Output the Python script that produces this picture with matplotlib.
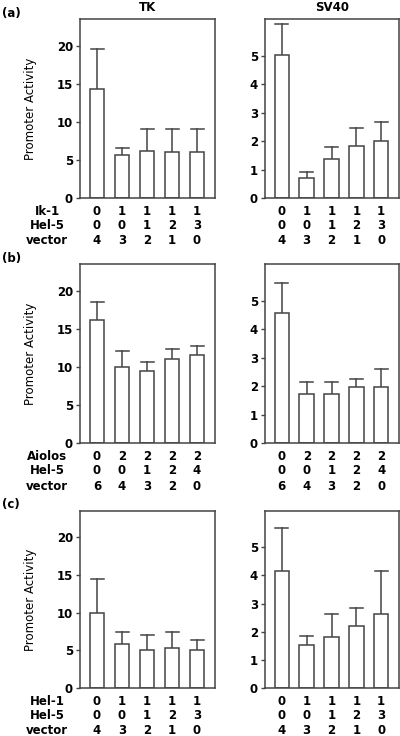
import matplotlib
matplotlib.use("Agg")
import matplotlib.pyplot as plt
import matplotlib.transforms as mtransforms
import numpy as np

# promoter activity, bar means and top of error bar
tk_a = [14.3, 5.7, 6.2, 6.1, 6.1]
tk_a_err = [19.6, 6.6, 9.1, 9.1, 9.1]
sv_a = [5.05, 0.70, 1.36, 1.83, 2.0]
sv_a_err = [6.12, 0.91, 1.79, 2.45, 2.66]

tk_b = [16.1, 9.95, 9.4, 11.1, 11.6]
tk_b_err = [18.5, 12.15, 10.6, 12.4, 12.7]
sv_b = [4.57, 1.73, 1.73, 1.96, 1.96]
sv_b_err = [5.64, 2.16, 2.16, 2.27, 2.6]

tk_c = [10.0, 5.8, 5.05, 5.35, 5.05]
tk_c_err = [14.4, 7.4, 7.0, 7.4, 6.35]
sv_c = [4.15, 1.54, 1.82, 2.21, 2.64]
sv_c_err = [5.67, 1.86, 2.63, 2.85, 4.16]

rows_a = ["Ik-1", "Hel-5", "vector"]
tab_a = [[0, 1, 1, 1, 1], [0, 0, 1, 2, 3], [4, 3, 2, 1, 0]]
rows_b = ["Aiolos", "Hel-5", "vector"]
tab_b = [[0, 2, 2, 2, 2], [0, 0, 1, 2, 4], [6, 4, 3, 2, 0]]
rows_c = ["Hel-1", "Hel-5", "vector"]
tab_c = [[0, 1, 1, 1, 1], [0, 0, 1, 2, 3], [4, 3, 2, 1, 0]]

panels = [
    ("(a)", tk_a, tk_a_err, sv_a, sv_a_err, rows_a, tab_a),
    ("(b)", tk_b, tk_b_err, sv_b, sv_b_err, rows_b, tab_b),
    ("(c)", tk_c, tk_c_err, sv_c, sv_c_err, rows_c, tab_c),
]

edge = "#444444"
fs = 8.5
plt.rcParams["font.family"] = "DejaVu Sans"
plt.rcParams["font.weight"] = "bold"

fig = plt.figure(figsize=(4, 7.36), dpi=100)

bottoms = [0.731, 0.398, 0.065]
heights = [0.2432, 0.2432, 0.2413]
row_off = [0.073, 0.156, 0.24]


def draw(ax, vals, tops, ylim, yticks):
    x = np.arange(len(vals))
    ax.bar(x, vals, width=0.58, color="white", edgecolor=edge, linewidth=1.1, zorder=2)
    for xi, v, t in zip(x, vals, tops):
        ax.plot([xi, xi], [v, t], color=edge, lw=1.1, zorder=1)
        ax.plot([xi - 0.26, xi + 0.26], [t, t], color=edge, lw=1.1, zorder=1)
    ax.set_xlim(-0.68, 4.72)
    ax.set_ylim(*ylim)
    ax.set_yticks(yticks)
    ax.set_xticks([])
    ax.tick_params(axis="y", direction="out", length=3, width=1, color=edge,
                   labelsize=fs, pad=2)
    for s in ax.spines.values():
        s.set_color(edge)
        s.set_linewidth(1.1)


for k, (lab, tk, tke, sv, sve, rows, tab) in enumerate(panels):
    axl = fig.add_axes([0.2, bottoms[k], 0.3375, heights[k]])
    axr = fig.add_axes([0.6625, bottoms[k], 0.335, heights[k]])
    draw(axl, tk, tke, (0, 23.5), [0, 5, 10, 15, 20])
    draw(axr, sv, sve, (0, 6.3), [0, 1, 2, 3, 4, 5])
    axl.set_ylabel("Promoter Activity", fontsize=fs, labelpad=14)
    fig.text(0.005, bottoms[k] + heights[k] + 0.008, lab, fontsize=fs,
             ha="left", va="center")
    if k == 0:
        axl.text(0.5, 1.065, "TK", transform=axl.transAxes, ha="center",
                 va="center", fontsize=fs)
        axr.text(0.5, 1.065, "SV40", transform=axr.transAxes, ha="center",
                 va="center", fontsize=fs)
    for ax in (axl, axr):
        tr = mtransforms.blended_transform_factory(ax.transData, ax.transAxes)
        for r, vals in enumerate(tab):
            for i, v in enumerate(vals):
                ax.text(i, -row_off[r], str(v), transform=tr, ha="center",
                        va="center", fontsize=fs)
    for r, name in enumerate(rows):
        axl.text(-0.244, -row_off[r], name, transform=axl.transAxes,
                 ha="center", va="center", fontsize=fs)

fig.savefig("out.png", dpi=100)
